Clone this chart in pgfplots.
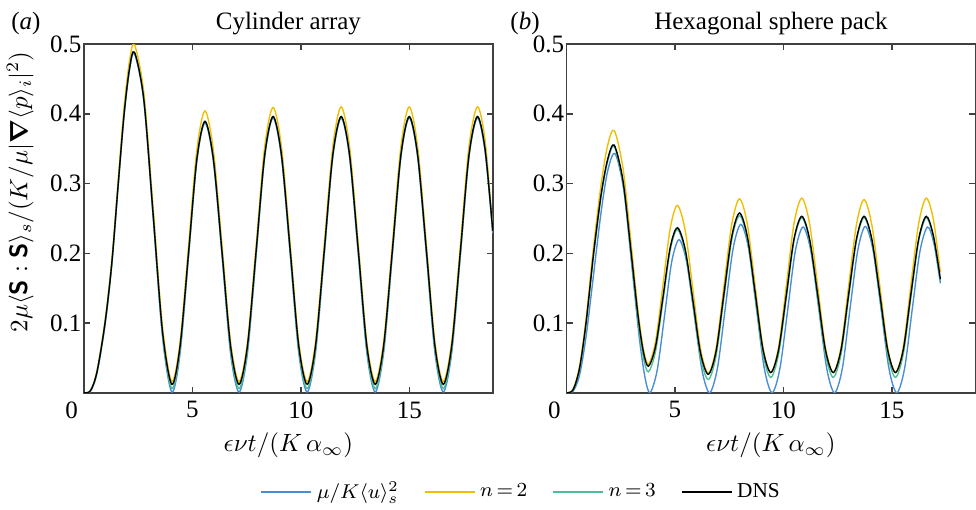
\documentclass[border=0pt]{standalone}
\usepackage{amsmath,bm}
\usepackage{fontspec}
\setmainfont{Liberation Serif}
\usepackage{pgfplots}
\usepackage{pgfplotstable}
\pgfplotsset{compat=1.18}

\definecolor{cblue}{RGB}{74,141,212}
\definecolor{cyellow}{RGB}{240,190,0}
\definecolor{cgreen}{RGB}{78,190,150}
\definecolor{caxis}{RGB}{64,64,64}

% cylinder array
\pgfplotstableread{
x blue yellow green dns
0 0 0 0 0
0.3 0.002 0.003 0.003 0.003
0.6 0.028 0.032 0.030 0.030
0.97 0.097 0.104 0.100 0.100
1.28 0.183 0.190 0.185 0.185
1.58 0.298 0.307 0.300 0.300
1.85 0.398 0.410 0.400 0.400
2.10 0.463 0.476 0.465 0.465
2.33 0.486 0.499 0.488 0.488
2.76 0.418 0.430 0.420 0.420
3.19 0.252 0.265 0.253 0.255
3.62 0.080 0.095 0.084 0.088
4.05 0.001 0.016 0.006 0.012
4.43 0.056 0.073 0.062 0.067
4.82 0.195 0.210 0.198 0.200
5.20 0.331 0.347 0.333 0.334
5.58 0.387 0.404 0.389 0.389
5.97 0.331 0.347 0.333 0.334
6.37 0.195 0.210 0.198 0.200
6.76 0.056 0.073 0.062 0.067
7.15 0.001 0.016 0.006 0.012
7.54 0.057 0.073 0.063 0.068
7.94 0.198 0.212 0.201 0.204
8.33 0.337 0.352 0.339 0.340
8.72 0.394 0.409 0.396 0.396
9.11 0.337 0.352 0.339 0.340
9.51 0.198 0.213 0.201 0.204
9.90 0.058 0.074 0.063 0.068
10.29 0.001 0.016 0.006 0.012
10.68 0.058 0.074 0.063 0.068
11.08 0.198 0.213 0.201 0.204
11.47 0.337 0.352 0.339 0.340
11.86 0.394 0.410 0.396 0.396
12.25 0.337 0.352 0.339 0.340
12.65 0.198 0.213 0.201 0.204
13.04 0.058 0.074 0.063 0.068
13.43 0.001 0.016 0.006 0.012
13.82 0.058 0.074 0.063 0.068
14.22 0.198 0.213 0.201 0.204
14.61 0.337 0.352 0.339 0.340
15.00 0.394 0.410 0.396 0.396
15.39 0.337 0.352 0.339 0.340
15.79 0.198 0.213 0.201 0.204
16.18 0.058 0.074 0.063 0.068
16.57 0.001 0.016 0.006 0.012
16.96 0.058 0.074 0.063 0.068
17.36 0.198 0.213 0.201 0.204
17.75 0.337 0.352 0.339 0.340
18.14 0.394 0.410 0.396 0.396
18.50 0.345 0.361 0.347 0.348
18.85 0.229 0.235 0.231 0.232
}\cyltable

% hexagonal sphere pack (xb: blue curve lags slightly)
\pgfplotstableread{
x xb blue yellow green dns
0 0 0 0 0 0
0.3 0.3 0.002 0.005 0.004 0.004
0.6 0.6 0.025 0.038 0.034 0.035
0.9 0.9 0.080 0.106 0.098 0.100
1.25 1.25 0.170 0.210 0.197 0.200
1.6 1.6 0.260 0.300 0.282 0.285
1.9 1.9 0.318 0.355 0.332 0.335
2.2 2.24 0.343 0.376 0.353 0.355
2.6 2.65 0.289 0.323 0.302 0.305
2.95 3.0 0.186 0.223 0.205 0.210
3.3 3.36 0.078 0.117 0.103 0.110
3.55 3.62 0.022 0.062 0.050 0.058
3.78 3.85 0 0.041 0.030 0.038
4.11 4.18 0.032 0.074 0.060 0.067
4.45 4.52 0.110 0.155 0.132 0.1375
4.78 4.85 0.1875 0.235 0.204 0.208
5.11 5.19 0.2195 0.2686 0.234 0.2367
5.47 5.54 0.1875 0.2335 0.2026 0.2063
5.83 5.9 0.110 0.148 0.1265 0.132
6.18 6.25 0.032 0.0631 0.0504 0.0572
6.54 6.6 0 0.028 0.019 0.0265
6.9 6.96 0.0352 0.0645 0.0533 0.060
7.26 7.32 0.1207 0.153 0.1365 0.142
7.62 7.68 0.2062 0.2415 0.2197 0.224
7.98 8.04 0.2414 0.278 0.254 0.2577
8.34 8.4 0.2062 0.2416 0.2201 0.224
8.7 8.76 0.1207 0.1535 0.138 0.1434
9.06 9.12 0.0352 0.0654 0.0559 0.0624
9.42 9.48 0 0.029 0.022 0.029
9.78 9.84 0.0347 0.0655 0.0554 0.0617
10.14 10.2 0.1188 0.154 0.1365 0.141
10.49 10.55 0.2029 0.2425 0.2176 0.2203
10.85 10.91 0.2376 0.279 0.251 0.253
11.21 11.27 0.2029 0.2425 0.2176 0.2203
11.58 11.64 0.1188 0.154 0.1365 0.141
11.94 12.0 0.0347 0.0655 0.0554 0.0617
12.3 12.36 0 0.029 0.022 0.029
12.66 12.72 0.0348 0.0652 0.0554 0.0617
13.01 13.07 0.1193 0.153 0.1365 0.141
13.37 13.43 0.2037 0.2408 0.2176 0.2203
13.72 13.78 0.2385 0.277 0.251 0.253
14.08 14.14 0.2037 0.2408 0.2176 0.2203
14.45 14.51 0.1193 0.153 0.1365 0.141
14.81 14.87 0.0348 0.0652 0.0554 0.0617
15.17 15.23 0 0.029 0.022 0.029
15.53 15.59 0.0347 0.0655 0.0554 0.0617
15.88 15.94 0.1188 0.154 0.1365 0.141
16.24 16.3 0.2029 0.2425 0.2176 0.2203
16.59 16.65 0.2376 0.279 0.251 0.253
16.92 16.95 0.213 0.248 0.2226 0.225
17.24 17.24 0.157 0.1725 0.161 0.163
}\hextable

\begin{document}
\begin{tikzpicture}
\pgfplotsset{panel/.style={
  scale only axis, width=163.5pt, height=139.5pt,
  xmin=0, xmax=18.85, ymin=0, ymax=0.5,
  xtick={0,5,10,15}, xticklabels={\hspace*{-9.8pt}0,5,10,15},
  ytick={0.1,0.2,0.3,0.4,0.5},
  tick align=inside, major tick length=2.4pt,
  axis line style={caxis, line width=0.6pt},
  every tick/.style={caxis, line width=0.6pt},
  /pgf/number format/assume math mode=true,
  yticklabel style={inner xsep=0.8pt},
  xlabel={$\epsilon\nu t/(K\,\alpha_\infty)$},
  xlabel style={at={(axis description cs:0.5,-0.15)}, anchor=center},
  every axis title shift=5.8pt,
  title style={anchor=base},
  clip mode=individual,
  every axis plot/.append style={line width=0.55pt, smooth},
}}

\begin{axis}[panel,
  title={Cylinder array},
  ylabel={$2\mu\langle\text{\sffamily\bfseries S}:\text{\sffamily\bfseries S}\rangle_s/(K/\mu|\bm{\nabla}\langle p\rangle_i|^2)$},
  ylabel style={at={(axis description cs:-0.156,0.576)}, anchor=center},
  legend columns=4,
  legend style={at={(axis description cs:1.073,-0.285)}, anchor=center,
    draw=none, fill=none, font=\fontsize{8.5}{10}\selectfont,
    /tikz/every even column/.append style={column sep=8pt}},
  legend image code/.code={\draw[#1] (0pt,0pt) -- (20pt,0pt);},
]
\addplot[cblue] table[x=x, y=blue] {\cyltable};
\addplot[cyellow] table[x=x, y=yellow] {\cyltable};
\addplot[cgreen] table[x=x, y=green] {\cyltable};
\addplot[black] table[x=x, y=dns] {\cyltable};
\legend{$\mu/K\langle u\rangle_s^2$, $n{\,}{=}{\,}2$, $n{\,}{=}{\,}3$, DNS}
\node[anchor=base, xshift=-23.2pt, yshift=5.8pt] at (rel axis cs:0,1) {(\textit{a})};
\end{axis}

\begin{axis}[panel, at={(193pt,0pt)},
  title={Hexagonal sphere pack},
]
\addplot[cblue] table[x=xb, y=blue] {\hextable};
\addplot[cyellow] table[x=x, y=yellow] {\hextable};
\addplot[cgreen] table[x=x, y=green] {\hextable};
\addplot[black] table[x=x, y=dns] {\hextable};
\node[anchor=base, xshift=-16.6pt, yshift=5.8pt] at (rel axis cs:0,1) {(\textit{b})};
\end{axis}

\pgfresetboundingbox
\path[use as bounding box] (-33.6pt,-46.5pt) rectangle (356.8pt,157.1pt);
\end{tikzpicture}
\end{document}
